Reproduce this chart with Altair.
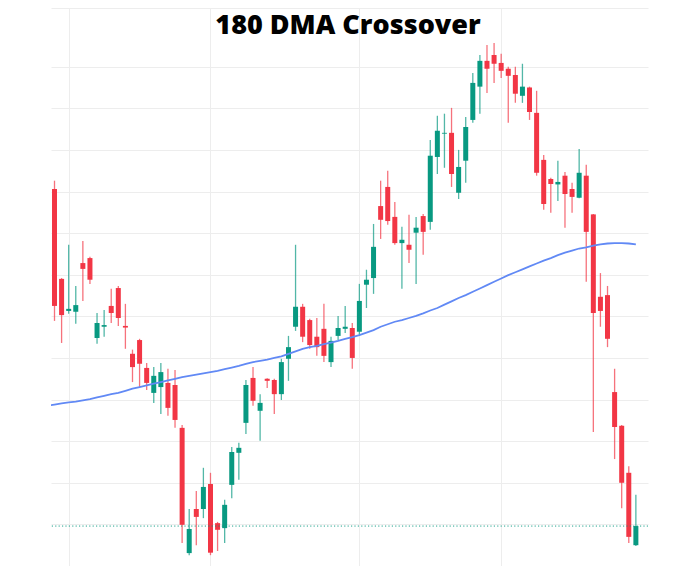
import altair as alt
import pandas as pd

title_text = "180 DMA Crossover"

opens = [190.6, 169.0, 161.3, 161.1, 172.8, 174.0, 154.8, 157.5, 162.5, 166.8,
         157.7, 151.0, 154.3, 147.6, 141.6, 143.0, 144.0, 143.5, 133.2, 103.1,
         113.7, 113.7, 119.7, 110.3, 109.1, 119.5, 127.2, 134.4, 145.2, 137.3,
         145.0, 144.7, 141.3, 149.8, 157.5, 162.3, 159.1, 155.1, 157.0, 149.0,
         155.3, 157.0, 157.2, 156.3, 167.6, 169.2, 186.5, 191.1, 183.9, 177.6,
         177.2, 180.1, 184.1, 182.7, 198.3, 203.9, 204.1, 189.7, 197.4, 207.2,
         215.2, 221.4, 222.8, 220.9, 219.5, 218.0, 213.0, 215.0, 208.9, 197.6,
         193.0, 191.7, 193.8, 190.6, 188.5, 193.8, 184.5, 164.7, 165.1, 141.8,
         133.7, 122.4, 105.0]
highs = [192.6, 169.2, 177.2, 167.3, 178.1, 174.3, 160.8, 161.5, 166.6, 167.3,
         163.0, 152.0, 154.6, 148.8, 147.8, 148.8, 147.4, 147.1, 133.9, 113.7,
         118.0, 123.6, 122.4, 110.6, 115.9, 128.6, 129.6, 144.7, 147.8, 141.3,
         145.1, 145.0, 149.8, 155.3, 177.2, 163.0, 159.4, 159.6, 163.0, 155.1,
         160.1, 162.5, 158.4, 167.8, 171.2, 182.2, 192.6, 195.0, 187.5, 181.5,
         184.4, 183.9, 184.6, 202.4, 208.2, 208.7, 210.1, 200.0, 207.9, 218.5,
         222.8, 225.2, 225.7, 223.1, 220.0, 220.0, 220.7, 215.2, 214.2, 198.8,
         193.3, 197.4, 194.7, 192.1, 200.2, 196.4, 184.6, 170.4, 167.3, 147.4,
         133.9, 124.0, 117.1]
lows = [158.9, 153.6, 160.6, 158.2, 163.7, 167.8, 153.4, 155.1, 158.4, 157.7,
        152.2, 144.2, 143.0, 142.3, 139.2, 136.5, 136.1, 133.2, 105.5, 102.6,
        105.0, 111.5, 102.6, 103.6, 105.5, 116.3, 120.7, 131.7, 138.5, 130.1,
        142.8, 136.5, 139.9, 144.5, 156.5, 153.8, 152.2, 150.5, 149.0, 147.8,
        154.3, 156.0, 147.4, 155.3, 162.0, 165.4, 178.6, 182.0, 177.2, 166.6,
        172.8, 167.8, 174.8, 180.8, 194.2, 195.7, 191.1, 188.2, 192.1, 206.5,
        208.7, 213.7, 216.1, 217.3, 206.5, 211.3, 211.3, 207.2, 193.8, 185.6,
        184.9, 187.7, 181.3, 184.9, 188.4, 168.3, 132.2, 157.5, 152.6, 125.7,
        113.9, 105.5, 104.8]
closes = [162.5, 160.3, 161.8, 162.7, 171.4, 168.8, 158.4, 157.9, 160.8, 159.6,
          157.3, 147.8, 148.6, 144.0, 145.7, 146.6, 138.0, 135.1, 109.9, 108.9,
          111.8, 119.0, 103.2, 108.7, 114.7, 127.4, 128.4, 143.5, 139.7, 139.2,
          144.5, 141.3, 149.0, 152.6, 162.3, 155.1, 153.1, 152.6, 150.5, 154.1,
          157.2, 157.5, 150.0, 163.7, 168.8, 176.7, 183.2, 182.9, 177.6, 178.4,
          176.0, 181.3, 180.3, 198.6, 204.6, 204.1, 194.2, 195.9, 205.5, 216.1,
          221.4, 219.5, 220.7, 219.0, 217.8, 213.5, 215.2, 209.1, 194.5, 187.0,
          191.8, 192.3, 189.4, 188.7, 194.5, 180.3, 160.8, 161.3, 154.6, 133.4,
          120.0, 107.0, 109.6]

ma_start = -1
ma_180 = [138.5, 138.8, 139.1, 139.3, 139.5, 139.8, 140.1, 140.5, 140.9, 141.3,
          141.6, 142.1, 142.6, 143.0, 143.4, 143.8, 144.2, 144.6, 145.0, 145.4,
          145.7, 146.0, 146.3, 146.6, 146.9, 147.3, 147.7, 148.1, 148.6, 149.0,
          149.3, 149.6, 150.0, 150.4, 151.0, 151.6, 152.2, 152.6, 152.9, 153.3,
          153.7, 154.1, 154.6, 155.0, 155.5, 156.1, 156.7, 157.5, 158.1, 158.7,
          159.1, 159.6, 160.1, 160.7, 161.4, 162.0, 162.8, 163.6, 164.4, 165.1,
          165.9, 166.7, 167.5, 168.3, 169.1, 169.9, 170.6, 171.3, 172.0, 172.7,
          173.4, 174.0, 174.7, 175.3, 175.8, 176.3, 176.6, 177.0, 177.3, 177.5,
          177.6, 177.6, 177.5, 177.3]

month_starts = [2, 22, 43, 63]
grid_levels = [100, 110, 120, 130, 140, 150, 160, 170, 180, 190, 200, 210, 220, 234.1]

UP = "#089981"
DOWN = "#F23645"
MA_COLOR = "#6189f5"
GRID = "#ededed"

candles = pd.DataFrame({
    "i": list(range(len(opens))),
    "open": opens, "high": highs, "low": lows, "close": closes,
})
candles["dir"] = ["up" if c >= o else "down" for o, c in zip(opens, closes)]

ma_df = pd.DataFrame({"i": list(range(ma_start, ma_start + len(ma_180))), "ma": ma_180})
last_df = pd.DataFrame({"price": [closes[-1]]})
title_df = pd.DataFrame({"t": [title_text]})

xscale = alt.Scale(domain=[-0.494, 83.71], nice=False, zero=False, padding=0)
yscale = alt.Scale(domain=[100, 234.1], nice=False, zero=False, padding=0)
xaxis = alt.Axis(values=month_starts, labels=False, ticks=False, domain=False,
                 grid=True, gridColor=GRID, gridWidth=1, title=None)
yaxis = alt.Axis(values=grid_levels, labels=False, ticks=False, domain=False,
                 grid=True, gridColor=GRID, gridWidth=1, title=None)

X = alt.X("i:Q", scale=xscale, axis=xaxis)
color = alt.Color("dir:N", scale=alt.Scale(domain=["up", "down"], range=[UP, DOWN]), legend=None)

wicks = alt.Chart(candles).mark_rule(strokeWidth=1.3, opacity=0.7).encode(
    x=X,
    y=alt.Y("low:Q", scale=yscale, axis=yaxis),
    y2="high:Q",
    color=color,
)
bodies = alt.Chart(candles).mark_bar(size=5).encode(
    x=X,
    y=alt.Y("open:Q", scale=yscale, axis=yaxis),
    y2="close:Q",
    color=color,
)
ma_line = alt.Chart(ma_df).mark_line(color=MA_COLOR, strokeWidth=1.8, clip=True).encode(
    x=X,
    y=alt.Y("ma:Q", scale=yscale, axis=yaxis),
)
price_line = alt.Chart(last_df).mark_rule(color=UP, strokeWidth=1, strokeDash=[1.2, 2.2], opacity=0.9).encode(
    y=alt.Y("price:Q", scale=yscale, axis=yaxis),
)
title = alt.Chart(title_df).mark_text(
    font="Open Sans", fontSize=27, fontWeight=800, color="#000000",
    align="center", baseline="middle",
).encode(text="t:N", x=alt.value(297), y=alt.value(18))

chart = alt.layer(wicks, bodies, ma_line, price_line, title).properties(
    width=597, height=558,
    autosize=alt.AutoSizeParams(type="none"),
    padding={"left": 43, "top": 0, "right": 20, "bottom": 0},
).configure_view(stroke=None)

chart.save("out.html", embed_options={"renderer": "svg", "actions": False})
